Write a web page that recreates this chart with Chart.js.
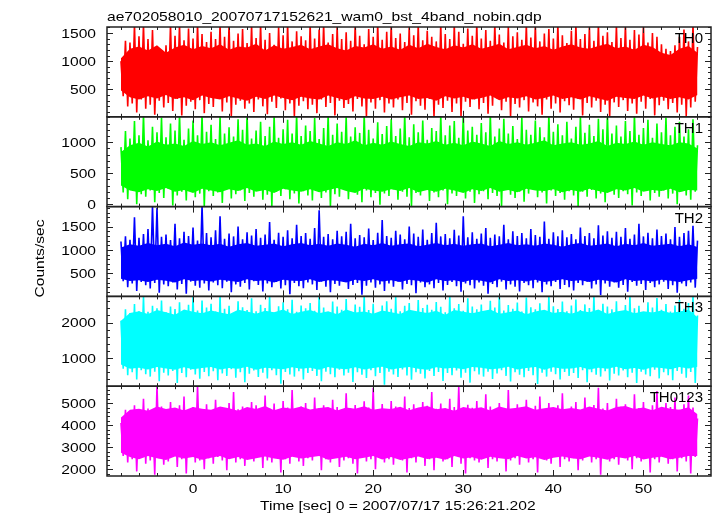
<!DOCTYPE html>
<html>
<head>
<meta charset="utf-8">
<script src="https://cdn.jsdelivr.net/npm/chart.js@4/dist/chart.umd.min.js"></script>
<style>
  html, body { margin: 0; padding: 0; background: #fff; }
</style>
</head>
<body>
<canvas id="lc" width="717" height="516"></canvas>
<script>
// light curve: spike tops at t = -8, -7.5, ... 56, spike bottoms a quarter second later,
// dense core of each band read at t = -8, -7, ... 56
const tFirst = -8;
const tStep = 0.25;
const coreStep = 1;

const panelNames = ['TH0', 'TH1', 'TH2', 'TH3', 'TH0123'];
const yMin = [15, -40, 2, 210, 1690];
const yMax = [1605, 1410, 1930, 2735, 5770];
const yTickLabels = [[500, 1000, 1500], [0, 500, 1000], [500, 1000, 1500], [1000, 2000], [2000, 3000, 4000, 5000]];
const yMajor = [500, 500, 500, 1000, 1000];
const yMinor = [100, 100, 100, 200, 200];
const xTickLabels = [0, 10, 20, 30, 40, 50];
const xMajor = 10;
const xMinor = 2;

const th0Top = [1000,1360,1330,1650,1440,1650,1390,1550,1180,1150,
  1280,1650,1450,1650,1370,1580,1400,1650,1480,1340,
  1520,1390,1650,1430,1650,1360,1490,1570,1320,1640,
  1410,1650,1380,1500,1290,1600,1460,1650,1350,1530,
  1440,1370,1650,1400,1560,1650,1330,1480,1610,1390,
  1510,1360,1650,1450,1300,1570,1430,1650,1380,1520,
  1650,1410,1490,1340,1600,1460,1650,1370,1540,1430,
  1350,1650,1480,1390,1650,1520,1310,1580,1450,1650,
  1400,1550,1360,1650,1470,1330,1610,1440,1510,1380,
  1650,1420,1650,1350,1490,1570,1400,1650,1460,1320,
  1540,1650,1390,1480,1600,1360,1650,1450,1510,1340,
  1630,1410,1650,1380,1550,1470,1650,1330,1500,1430,
  1300,1220,1180,1280,1430,1560,1350,1650,1250];
const th0Bottom = [380,200,250,90,320,160,230,50,300,180,
  260,120,330,40,210,280,150,310,80,240,
  190,340,110,270,30,230,300,160,250,100,
  320,200,60,280,170,340,130,250,20,210,
  290,150,230,80,320,190,260,40,300,170,
  240,110,330,200,20,270,160,310,90,250,
  180,320,130,260,50,290,210,140,330,20,
  230,170,300,100,250,30,280,190,320,150,
  260,70,210,340,130,280,20,240,180,310,
  110,270,200,50,320,160,250,90,290,220,
  140,330,40,260,180,300,100,230,20,270,
  190,310,120,250,70,280,160,330,40,220,
  300,150,260,90,230,30,180,280];
const th0CoreHi = [1050,1220,1260,1190,1280,1150,1240,1290,1210,1270,
  1230,1300,1200,1260,1240,1310,1190,1280,1220,1250,
  1290,1210,1260,1300,1230,1190,1270,1240,1300,1220,
  1260,1200,1290,1230,1310,1250,1210,1280,1240,1300,
  1220,1260,1310,1210,1250,1290,1230,1270,1200,1260,
  1300,1240,1220,1270,1310,1230,1260,1200,1290,1250,
  1150,1110,1220,1270,1150];
const th0CoreLo = [480,360,320,380,340,400,330,360,310,390,
  350,320,380,340,300,370,330,390,350,310,
  370,340,320,390,350,310,380,340,330,370,
  320,360,390,330,350,300,380,340,370,320,
  350,390,310,360,340,380,320,350,390,330,
  360,320,380,340,300,370,350,330,390,340,
  370,330,360,320,400];

const th1Top = [920,1180,1060,1340,1110,1450,1030,1250,1160,1400,
  1080,1300,1190,1450,1040,1220,1350,1110,1450,1170,
  1280,1050,1420,1140,1240,1090,1370,1200,1450,1060,
  1190,1330,1100,1250,1430,1070,1210,1360,1140,1450,
  1100,1270,1180,1390,1050,1230,1450,1120,1300,1170,
  1410,1090,1240,1150,1450,1200,1060,1320,1130,1260,
  1370,1100,1220,1450,1080,1290,1160,1350,1040,1230,
  1180,1430,1110,1270,1340,1070,1450,1190,1250,1120,
  1310,1160,1450,1090,1220,1380,1140,1260,1050,1400,
  1200,1120,1350,1240,1080,1450,1170,1290,1110,1330,
  1060,1250,1420,1150,1280,1100,1380,1210,1450,1140,
  1270,1090,1340,1180,1450,1120,1230,1360,1070,1300,
  1160,1400,1110,1250,1330,1090,1210,1370,950];
const th1Bottom = [190,80,240,0,160,120,220,30,180,100,
  250,-20,140,200,60,230,110,170,-40,210,
  130,190,20,240,90,160,220,50,180,120,
  230,70,150,-30,200,130,240,80,170,10,
  210,140,60,230,100,190,-40,160,120,240,
  80,200,150,30,220,110,180,-10,170,130,
  240,70,200,120,-30,180,140,230,50,190,
  110,220,0,170,130,240,90,200,20,160,
  210,80,180,130,-30,230,150,100,200,40,
  170,240,110,190,10,220,130,180,70,210,
  140,-40,200,120,230,90,170,30,220,150,
  100,210,160,-20,190,130,240,60,180,120,
  220,90,170,0,210,140,70,200];
const th1CoreHi = [840,950,990,930,1010,960,980,940,1020,970,
  1000,950,990,1030,960,980,940,1010,970,1000,
  960,1020,980,940,1000,970,1030,950,990,960,
  1010,970,940,1000,980,1020,960,990,950,1010,
  980,940,1020,970,1000,960,990,1030,950,980,
  1000,960,980,1020,940,990,970,1010,960,1000,
  970,950,1000,980,900];
const th1CoreLo = [300,220,190,240,210,260,200,230,180,250,
  220,190,240,210,260,200,230,180,250,220,
  200,240,190,230,260,210,180,250,220,200,
  240,210,260,190,230,200,250,220,180,240,
  210,260,200,230,190,250,220,210,240,190,
  230,200,250,210,180,240,220,260,200,230,
  210,250,190,230,220];

const th2Top = [1180,1290,1220,1700,1260,1340,1450,1950,1900,1280,
  1330,1210,1560,1250,1390,1300,1480,1200,1960,1360,
  1270,1420,1720,1240,1350,1290,1500,1230,1380,1310,
  1450,1260,1330,1600,1220,1370,1280,1420,1250,1540,
  1300,1360,1240,1470,1850,1280,1340,1230,1410,1290,
  1390,1560,1250,1320,1270,1460,1210,1370,1640,1300,
  1260,1410,1330,1230,1500,1350,1280,1440,1220,1360,
  1580,1290,1340,1250,1430,1310,1720,1270,1380,1240,
  1350,1470,1260,1330,1290,1540,1230,1400,1300,1360,
  1250,1450,1320,1280,1610,1240,1380,1290,1420,1270,
  1340,1230,1480,1300,1360,1250,1530,1310,1400,1260,
  1390,1280,1470,1240,1330,1560,1290,1370,1250,1440,
  1300,1350,1230,1490,1280,1360,1410,1520,1200];
const th2Bottom = [330,200,280,120,310,240,170,290,80,260,
  220,300,150,270,60,320,230,190,280,130,
  300,240,180,320,90,260,210,290,150,330,
  250,110,280,200,310,170,240,50,290,220,
  180,300,260,140,320,210,90,270,230,310,
  160,250,290,40,230,300,190,260,120,280,
  210,320,150,270,240,70,300,200,260,180,
  290,130,250,310,220,100,280,240,170,300,
  230,60,270,200,320,150,260,210,110,290,
  240,180,300,90,260,220,310,160,250,200,
  130,290,240,320,170,260,30,280,210,300,
  190,250,100,310,230,270,140,290,200,260,
  320,160,240,80,280,220,300,190];
const th2CoreHi = [1050,1120,1090,1150,1100,1130,1080,1160,1110,1140,
  1100,1130,1070,1120,1150,1090,1110,1140,1080,1120,
  1150,1100,1130,1090,1140,1110,1070,1130,1100,1150,
  1090,1120,1140,1080,1110,1150,1100,1130,1090,1120,
  1140,1080,1110,1150,1100,1120,1090,1140,1110,1070,
  1120,1150,1090,1110,1140,1080,1130,1100,1150,1090,
  1110,1130,1080,1120,1060];
const th2CoreLo = [380,330,350,310,360,340,300,370,330,350,
  320,360,340,310,370,330,350,300,360,340,
  330,370,310,350,340,300,360,330,370,320,
  350,310,360,340,300,370,330,350,310,360,
  340,300,370,330,350,320,360,310,340,370,
  330,350,310,360,340,300,370,330,350,320,
  360,340,310,350,380];

const th3Top = [2050,2370,2270,2520,2320,2730,2300,2470,2400,2620,
  2290,2450,2380,2570,2240,2500,2750,2340,2620,2420,
  2530,2310,2750,2390,2470,2260,2600,2430,2350,2680,
  2320,2500,2410,2750,2280,2460,2570,2370,2640,2300,
  2480,2400,2550,2330,2740,2420,2290,2590,2450,2360,
  2660,2310,2510,2440,2750,2350,2530,2270,2480,2600,
  2390,2720,2320,2470,2550,2300,2630,2410,2500,2360,
  2580,2440,2290,2750,2400,2520,2330,2680,2450,2370,
  2510,2260,2610,2420,2750,2340,2490,2390,2560,2310,
  2700,2430,2370,2540,2300,2750,2460,2380,2590,2320,
  2480,2650,2350,2510,2410,2740,2290,2530,2450,2370,
  2600,2320,2490,2750,2400,2470,2280,2570,2420,2690,
  2360,2520,2310,2480,2640,2390,2550,2750,2200];
const th3Bottom = [700,520,600,400,660,550,480,620,350,590,
  510,640,300,580,460,670,540,420,610,490,
  630,380,570,500,690,450,600,320,560,650,
  470,590,430,660,520,280,610,540,480,630,
  400,580,640,500,350,620,550,460,670,510,
  590,330,600,530,440,660,490,580,250,620,
  540,470,680,510,390,600,560,430,640,500,
  610,360,580,520,650,450,590,310,630,540,
  480,620,410,570,660,500,340,600,530,460,
  640,520,270,590,480,620,550,400,610,500,
  580,440,660,320,600,530,480,630,370,560,
  510,650,460,590,300,620,540,490,670,430,
  600,520,380,640,560,450,610,300];
const th3CoreHi = [2050,2270,2320,2240,2350,2290,2220,2370,2300,2260,
  2340,2280,2230,2360,2310,2250,2330,2290,2370,2240,
  2300,2350,2260,2320,2230,2370,2280,2310,2250,2340,
  2290,2240,2360,2310,2270,2330,2220,2350,2300,2260,
  2320,2370,2250,2290,2340,2230,2310,2360,2270,2300,
  2250,2330,2290,2370,2240,2310,2350,2260,2320,2280,
  2340,2270,2310,2360,2150];
const th3CoreLo = [820,700,730,680,750,710,670,740,690,720,
  750,680,720,700,760,670,730,710,690,740,
  700,730,670,750,710,690,740,680,720,760,
  680,720,750,700,670,740,710,730,690,750,
  730,690,710,760,680,720,750,670,740,700,
  710,750,680,730,700,760,690,720,670,740,
  720,690,750,710,760];

const th0123Top = [4100,4700,4550,4900,4650,5200,4750,4600,5800,4850,
  4700,5050,4580,4900,5300,4650,4820,5800,4700,4950,
  4600,5150,4780,4680,5000,5500,4720,4850,4600,5050,
  4900,4650,5350,4750,4980,4620,5100,4800,5600,4700,
  4850,5000,4640,5250,4780,4900,4600,5150,4820,4700,
  5450,4750,4920,4660,5080,4800,5700,4720,4960,4630,
  5100,4850,4700,5300,4780,4950,4610,5050,4880,5500,
  4740,4980,4650,5200,4820,5750,4700,4930,4790,5100,
  4660,5400,4850,4720,5000,4780,5600,4690,4950,4810,
  5150,4730,4880,5300,4650,5000,4760,4900,5450,4700,
  4850,5050,4680,5250,4800,4920,5700,4750,5000,4660,
  5200,4830,4950,4700,5400,4780,5050,4690,4900,5550,
  4760,5000,4820,5250,4700,4950,5350,4800,4300];
const th0123Bottom = [2600,2300,2450,1900,2550,2250,2400,1750,2500,2200,
  2350,2600,2100,2450,1800,2550,2300,2400,2000,2500,
  2250,2550,2400,1950,2600,2300,2450,2150,2500,2350,
  2600,2050,2400,2300,2550,1850,2450,2250,2600,2350,
  2150,2500,2400,2600,1950,2450,2300,2550,2100,2400,
  2500,2250,1800,2550,2350,2450,2000,2600,2300,2450,
  2200,2550,2400,1850,2500,2300,2600,2150,2450,1950,
  2550,2350,2450,2100,2600,2250,1800,2500,2400,2300,
  2600,2050,2450,2350,2550,1900,2400,2500,2200,2600,
  2300,2450,1850,2550,2400,2250,2600,2100,2450,2350,
  2500,1950,2400,2600,2300,2450,1750,2550,2350,2450,
  2200,2600,2400,2000,2500,2350,2550,1850,2450,2300,
  2600,2250,2450,1900,2500,2350,1800,2550];
const th0123CoreHi = [4350,4700,4750,4650,4850,4730,4800,4670,4830,4750,
  4700,4850,4770,4650,4820,4730,4870,4680,4800,4750,
  4850,4710,4780,4830,4670,4800,4740,4860,4700,4770,
  4730,4840,4680,4800,4870,4720,4780,4650,4830,4750,
  4810,4670,4850,4740,4790,4860,4700,4770,4830,4720,
  4780,4710,4850,4750,4670,4820,4870,4730,4800,4680,
  4840,4750,4700,4810,4500];
const th0123CoreLo = [2750,2550,2450,2600,2500,2420,2580,2480,2550,2430,
  2520,2600,2450,2550,2420,2500,2580,2480,2430,2560,
  2480,2540,2600,2430,2500,2560,2450,2520,2600,2440,
  2550,2420,2500,2580,2460,2520,2430,2600,2480,2540,
  2430,2560,2500,2450,2600,2480,2540,2420,2520,2580,
  2500,2450,2580,2520,2430,2550,2480,2600,2440,2520,
  2560,2450,2520,2600,2600];

const tops = [th0Top, th1Top, th2Top, th3Top, th0123Top];
const bottoms = [th0Bottom, th1Bottom, th2Bottom, th3Bottom, th0123Bottom];
const coreHis = [th0CoreHi, th1CoreHi, th2CoreHi, th3CoreHi, th0123CoreHi];
const coreLos = [th0CoreLo, th1CoreLo, th2CoreLo, th3CoreLo, th0123CoreLo];
const colors = ['#ff0000', '#00ff00', '#0000ff', '#00ffff', '#ff00ff'];

function zigzag(top, bottom) {
  const pts = [];
  for (let i = 0; i < top.length; i++) {
    pts.push({x: tFirst + 2 * i * tStep, y: top[i]});
    if (i < bottom.length) pts.push({x: tFirst + (2 * i + 1) * tStep, y: bottom[i]});
  }
  return pts;
}

function series(vals) {
  return vals.map((v, i) => ({x: tFirst + i * coreStep, y: v}));
}

const FONT = '13px "Liberation Sans", Arial, sans-serif';
const STRETCH = 1.2;

function wideText(ctx, str, x, y, align, rot) {
  ctx.save();
  ctx.translate(x, y);
  if (rot) ctx.rotate(rot);
  ctx.scale(STRETCH, 1);
  ctx.textAlign = align;
  ctx.textBaseline = 'alphabetic';
  ctx.fillText(str, 0, 0);
  ctx.restore();
}

const panelIds = panelNames.map((n, k) => 'y' + k);

const scales = {
  x: {
    type: 'linear', position: 'bottom', min: -9.55, max: 57.5,
    grid: {display: false}, border: {display: false},
    ticks: {display: false},
    afterBuildTicks(s) { s.ticks = xTickLabels.map(v => ({value: v})); },
    afterFit(s) { s.height = 40; }
  }
};
panelIds.forEach((id, k) => {
  scales[id] = {
    type: 'linear', position: 'left', stack: 'panels', stackWeight: 1,
    weight: panelIds.length - k,
    min: yMin[k], max: yMax[k],
    grid: {display: false}, border: {display: false},
    ticks: {display: false},
    afterBuildTicks(s) { s.ticks = yTickLabels[k].map(v => ({value: v})); },
    afterFit(s) { s.width = 107; }
  };
});

const datasets = [];
panelIds.forEach((id, k) => {
  datasets.push({
    label: panelNames[k] + ' core low', data: series(coreLos[k]), yAxisID: id,
    borderColor: 'rgba(0,0,0,0)', pointRadius: 0, fill: false, clip: 0
  });
  datasets.push({
    label: panelNames[k] + ' core high', data: series(coreHis[k]), yAxisID: id,
    borderColor: 'rgba(0,0,0,0)', backgroundColor: colors[k], pointRadius: 0, fill: '-1', clip: 0
  });
  datasets.push({
    label: panelNames[k], data: zigzag(tops[k], bottoms[k]), yAxisID: id,
    borderColor: colors[k], borderWidth: 1.6, pointRadius: 0, tension: 0, fill: false, clip: 0
  });
});

const framePlugin = {
  id: 'qdpFrames',
  afterDraw(chart) {
    const ctx = chart.ctx;
    const area = chart.chartArea;
    const xs = chart.scales.x;
    const left = area.left, right = area.right;
    ctx.save();
    ctx.strokeStyle = '#222';
    ctx.fillStyle = '#000';
    panelIds.forEach((id, k) => {
      const ys = chart.scales[id];
      const top = ys.top, bottom = ys.bottom;
      ctx.lineWidth = 1;
      ctx.beginPath();
      for (let v = Math.ceil(ys.min / yMinor[k]) * yMinor[k]; v <= ys.max; v += yMinor[k]) {
        const py = Math.round(ys.getPixelForValue(v)) + 0.5;
        const len = v % yMajor[k] === 0 ? 6 : 3;
        ctx.moveTo(left, py); ctx.lineTo(left + len, py);
        ctx.moveTo(right, py); ctx.lineTo(right - len, py);
      }
      for (let t = Math.ceil(xs.min / xMinor) * xMinor; t <= xs.max; t += xMinor) {
        const px = Math.round(xs.getPixelForValue(t)) + 0.5;
        const len = t % xMajor === 0 ? 6 : 3;
        ctx.moveTo(px, top); ctx.lineTo(px, top + len);
        ctx.moveTo(px, bottom); ctx.lineTo(px, bottom - len);
      }
      ctx.stroke();
      ctx.lineWidth = 1.5;
      ctx.strokeRect(left, top, right - left, bottom - top);

      ctx.font = FONT;
      ys.ticks.forEach(tk => {
        wideText(ctx, String(tk.value), left - 11, ys.getPixelForValue(tk.value) + 4.6, 'right');
      });
      ctx.font = '15px "Liberation Sans", Arial, sans-serif';
      ctx.textAlign = 'right';
      ctx.textBaseline = 'alphabetic';
      ctx.fillText(panelNames[k], right - 8, top + 16);
    });
    ctx.font = FONT;
    xs.ticks.forEach(tk => {
      wideText(ctx, String(tk.value), xs.getPixelForValue(tk.value), area.bottom + 17, 'center');
    });
    wideText(ctx, 'ae702058010_20070717152621_wam0_bst_4band_nobin.qdp', left, 20.5, 'left');
    wideText(ctx, 'Time [sec] 0 = 2007/07/17 15:26:21.202', 260, 509.5, 'left');
    wideText(ctx, 'Counts/sec', 43.5, (area.top + area.bottom) / 2 + 7, 'center', -Math.PI / 2);
    ctx.restore();
  }
};

new Chart(document.getElementById('lc'), {
  type: 'line',
  data: {datasets: datasets},
  options: {
    responsive: false,
    animation: false,
    events: [],
    layout: {padding: {top: 27, right: 6, left: 0, bottom: 0}},
    plugins: {legend: {display: false}, tooltip: {enabled: false}, title: {display: false}},
    scales: scales
  },
  plugins: [framePlugin]
});
</script>
</body>
</html>
